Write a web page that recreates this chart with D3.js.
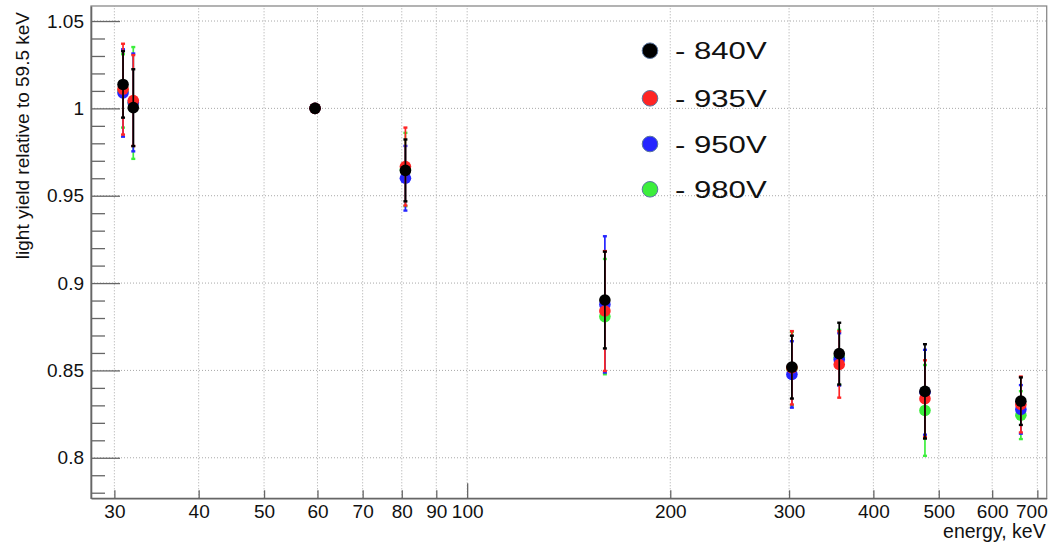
<!DOCTYPE html>
<html>
<head>
<meta charset="utf-8">
<script src="https://cdn.jsdelivr.net/npm/d3@7"></script>
<style>
  html, body { margin: 0; padding: 0; background: #fff; }
  svg { display: block; font-family: "Liberation Sans", Arial, sans-serif; }
</style>
</head>
<body>
<svg id="chart" width="1052" height="543"></svg>
<script>
// Photon energies of the measured lines, keV
const energies = [30.9, 32.0, 59.5, 81.0, 160.0, 302.9, 356.0, 477.0, 661.7];

// Light yield relative to the 59.5 keV line, one array per PMT voltage
const yield840 = [1.0137, 1.0004, 1.0, 0.9645, 0.8903, 0.8519, 0.8596, 0.8380, 0.8324];
const err840   = [0.019, 0.022, 0, 0.0177, 0.0277, 0.018, 0.0177, 0.027, 0.0136];

const yield935 = [1.0110, 1.0045, 1.0, 0.9667, 0.8840, 0.8515, 0.8534, 0.8338, 0.8305];
const err935   = [0.026, 0.026, 0, 0.0223, 0.0343, 0.021, 0.019, 0.022, 0.016];

const yield950 = [1.0088, 1.0034, 1.0, 0.9600, 0.8878, 0.8477, 0.8563, 0.8375, 0.8277];
const err950   = [0.025, 0.028, 0, 0.0185, 0.039, 0.019, 0.015, 0.0243, 0.0139];

const yield980 = [1.0100, 1.0031, 1.0, 0.9650, 0.8808, 0.8510, 0.8575, 0.8271, 0.8244];
const err980   = [0.021, 0.032, 0, 0.021, 0.033, 0.021, 0.0157, 0.026, 0.0137];

const seriesLabels = ["- 840V", "- 935V", "- 950V", "- 980V"];

// Axis ticks
const xTickValues = [30, 40, 50, 60, 70, 80, 90, 100, 200, 300, 400, 500, 600, 700];
const xTickLabels = ["30", "40", "50", "60", "70", "80", "90", "100", "200", "300", "400", "500", "600", "700"];
const yTickValues = [0.80, 0.85, 0.90, 0.95, 1.00, 1.05];
const yTickLabels = ["0.8", "0.85", "0.9", "0.95", "1", "1.05"];

const xTitle = "energy, keV";
const yTitle = "light yield relative to 59.5 keV";

// ---- layout & style ----
const W = 1052, H = 543;
const margin = { left: 91, top: 6, right: 5.3, bottom: 44.7 };
const colors = { "- 840V": "#000000", "- 935V": "#ff2525", "- 950V": "#2525ff", "- 980V": "#3cee3c" };
const axisColor = "#666";

const svg = d3.select("#chart");

const x = d3.scaleLog()
  .domain([27.7, 722.7])
  .range([margin.left, W - margin.right]);

const y = d3.scaleLinear()
  .domain([0.7768, 1.0586])
  .range([H - margin.bottom, margin.top]);

const x0 = margin.left, x1 = W - margin.right;
const y0 = H - margin.bottom, y1 = margin.top;

// grid
const grid = svg.append("g").attr("stroke", "#a8a8a8").attr("stroke-width", 1)
  .attr("stroke-dasharray", "1,2");
grid.selectAll("line.gx").data(xTickValues).join("line")
  .attr("class", "gx")
  .attr("x1", d => x(d)).attr("x2", d => x(d))
  .attr("y1", y0).attr("y2", y1);
grid.selectAll("line.gy").data(yTickValues).join("line")
  .attr("class", "gy")
  .attr("x1", x0).attr("x2", x1)
  .attr("y1", d => y(d)).attr("y2", d => y(d));

// frame
svg.append("rect")
  .attr("x", x0).attr("y", y1)
  .attr("width", x1 - x0).attr("height", y0 - y1)
  .attr("fill", "none").attr("stroke", "#8a8a8a").attr("stroke-width", 1.3);

// x axis, ticks pointing into the frame
const xAxis = d3.axisBottom(x)
  .tickValues(xTickValues)
  .tickFormat((d, i) => xTickLabels[i])
  .tickSizeInner(-8)
  .tickSizeOuter(0)
  .tickPadding(6.5);

const gx = svg.append("g")
  .attr("transform", `translate(0,${y0})`)
  .call(xAxis);
gx.select(".domain").attr("stroke", axisColor).attr("stroke-width", 1.6);
gx.selectAll(".tick line").attr("stroke", axisColor).attr("stroke-width", 1.3)
  .filter(d => d === 100).attr("y2", -15);
gx.selectAll(".tick text").attr("font-size", 19).attr("fill", "#111")
  .attr("font-family", "Liberation Sans, Arial, sans-serif");
// keep the last label inside the canvas
gx.selectAll(".tick text").filter(d => d === 700).attr("dx", -6);

// y axis: major ticks with labels
const yAxis = d3.axisLeft(y)
  .tickValues(yTickValues)
  .tickFormat((d, i) => yTickLabels[i])
  .tickSizeInner(-29)
  .tickSizeOuter(0)
  .tickPadding(7);

const gy = svg.append("g")
  .attr("transform", `translate(${x0},0)`)
  .call(yAxis);
gy.select(".domain").attr("stroke", axisColor).attr("stroke-width", 1.6);
gy.selectAll(".tick line").attr("stroke", axisColor).attr("stroke-width", 1.3);
gy.selectAll(".tick text").attr("font-size", 19).attr("fill", "#111")
  .attr("font-family", "Liberation Sans, Arial, sans-serif");

// y axis: minor ticks every 0.01
const yMinor = d3.range(78, 106).map(v => v / 100)
  .filter(v => !yTickValues.some(t => Math.abs(t - v) < 1e-6));
const gyMinor = svg.append("g")
  .attr("transform", `translate(${x0},0)`)
  .call(d3.axisLeft(y).tickValues(yMinor).tickFormat("").tickSizeInner(-14).tickSizeOuter(0));
gyMinor.select(".domain").remove();
gyMinor.selectAll(".tick line").attr("stroke", axisColor).attr("stroke-width", 1.3);

// axis titles
svg.append("text")
  .attr("x", x1 - 1).attr("y", 538)
  .attr("text-anchor", "end")
  .attr("font-size", 19.5).attr("fill", "#111")
  .text(xTitle);

svg.append("text")
  .attr("transform", `translate(29,12) rotate(-90)`)
  .attr("text-anchor", "end")
  .attr("font-size", 19).attr("fill", "#111")
  .text(yTitle);

// data series, drawn back to front
const series = [
  { name: seriesLabels[3], values: yield980, errors: err980 },
  { name: seriesLabels[2], values: yield950, errors: err950 },
  { name: seriesLabels[1], values: yield935, errors: err935 },
  { name: seriesLabels[0], values: yield840, errors: err840 }
];

const plot = svg.append("g");
series.forEach(s => {
  const pts = energies.map((e, i) => ({ e, v: s.values[i], err: s.errors[i] }));
  const g = plot.append("g").attr("class", "series");
  const c = colors[s.name];
  const bars = pts.filter(p => p.err > 0);
  g.selectAll("line.bar").data(bars).join("line")
    .attr("class", "bar")
    .attr("x1", p => x(p.e)).attr("x2", p => x(p.e))
    .attr("y1", p => y(p.v - p.err)).attr("y2", p => y(p.v + p.err))
    .attr("stroke", c).attr("stroke-width", 1.7);
  const caps = bars.flatMap(p => [p.v - p.err, p.v + p.err].map(v => ({ e: p.e, v })));
  g.selectAll("line.cap").data(caps).join("line")
    .attr("class", "cap")
    .attr("x1", p => x(p.e) - 2).attr("x2", p => x(p.e) + 2)
    .attr("y1", p => y(p.v)).attr("y2", p => y(p.v))
    .attr("stroke", c).attr("stroke-width", 2.4);
  g.selectAll("circle").data(pts).join("circle")
    .attr("cx", p => x(p.e)).attr("cy", p => y(p.v))
    .attr("r", 5.8)
    .attr("fill", c);
});

// legend
const legendY = [50.7, 98.3, 144, 189.3];
const legend = svg.append("g");
seriesLabels.forEach((name, i) => {
  legend.append("circle")
    .attr("cx", 650).attr("cy", legendY[i]).attr("r", 7.8)
    .attr("fill", colors[name])
    .attr("stroke", "#5a76a0").attr("stroke-width", 1);
  legend.append("text")
    .attr("transform", `translate(675,${legendY[i] + 8.6}) scale(1.27,1)`)
    .attr("font-size", 24.5).attr("fill", "#111")
    .text(name);
});
</script>
</body>
</html>
